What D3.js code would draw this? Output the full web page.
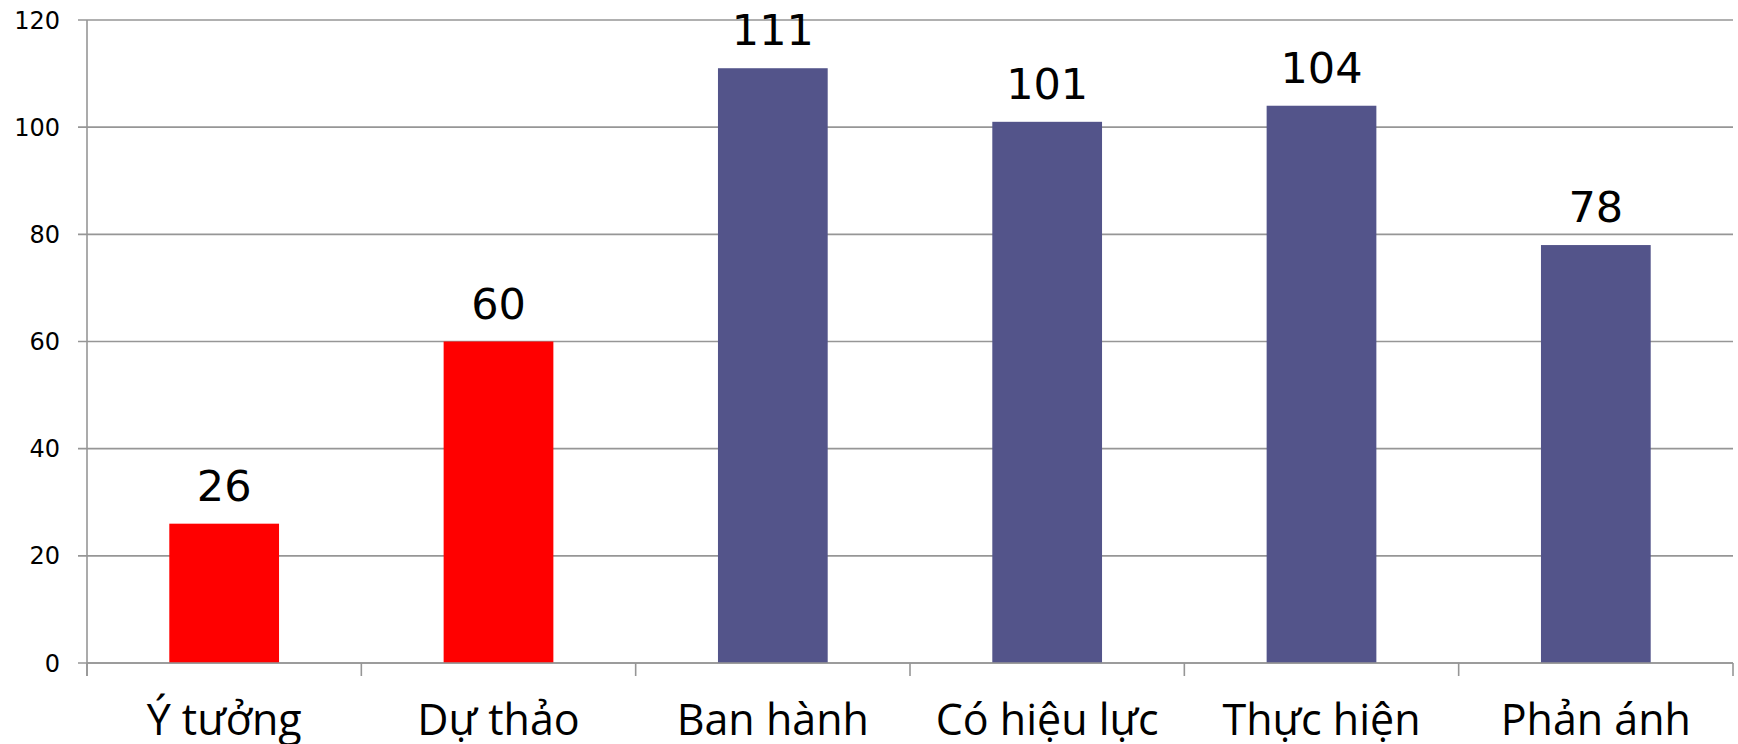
<!DOCTYPE html>
<html>
<head>
<meta charset="utf-8">
<script src="https://cdn.jsdelivr.net/npm/d3@7"></script>
<style>
  body { margin: 0; background: #fff; }
  svg { display: block; }
  .grid line { stroke: #969696; stroke-width: 1.6px; }
</style>
</head>
<body>
<div id="chart"></div>
<script>
// chart data
const categories = ['Ý tưởng', 'Dự thảo', 'Ban hành', 'Có hiệu lực', 'Thực hiện', 'Phản ánh'];
const values = [26, 60, 111, 101, 104, 78];
const barColors = ['#ff0000', '#ff0000', '#53548a', '#53548a', '#53548a', '#53548a'];
const yTicks = [0, 20, 40, 60, 80, 100, 120];

const width = 1738, height = 744;
const margin = { top: 20, right: 5, bottom: 81, left: 87 };

const svg = d3.select('#chart').append('svg')
    .attr('width', width)
    .attr('height', height);

let x = d3.scaleBand()
    .domain(categories)
    .range([margin.left, width - margin.right])
    .paddingInner(0.6)
    .paddingOuter(0.3);

let y = d3.scaleLinear()
    .domain([0, 120])
    .range([height - margin.bottom, margin.top]);

// horizontal gridlines (also act as y ticks on the left)
svg.append('g')
    .attr('class', 'grid')
    .selectAll('line')
    .data(yTicks)
    .enter().append('line')
    .attr('x1', margin.left - 9)
    .attr('x2', width - margin.right)
    .attr('y1', d => y(d))
    .attr('y2', d => y(d));

// y labels
svg.append('g')
    .selectAll('text')
    .data(yTicks)
    .enter().append('text')
    .attr('x', 60)
    .attr('y', d => y(d))
    .attr('dy', '0.36em')
    .attr('text-anchor', 'end')
    .style('font-family', 'DejaVu Sans, Verdana, sans-serif')
    .style('font-size', '24px')
    .attr('fill', '#000')
    .text(d => d);

// bars
svg.append('g')
    .selectAll('rect')
    .data(values)
    .enter().append('rect')
    .attr('x', (d, i) => x(categories[i]))
    .attr('width', x.bandwidth())
    .attr('y', d => y(d))
    .attr('height', d => y(0) - y(d))
    .attr('fill', (d, i) => barColors[i]);

// value labels
svg.append('g')
    .selectAll('text')
    .data(values)
    .enter().append('text')
    .attr('x', (d, i) => x(categories[i]) + x.bandwidth() / 2)
    .attr('y', d => y(d) - 23)
    .attr('text-anchor', 'middle')
    .style('font-family', 'DejaVu Sans, Verdana, sans-serif')
    .style('font-size', '43px')
    .attr('fill', '#000')
    .text(d => d);

// y axis line
svg.append('line')
    .attr('x1', margin.left).attr('x2', margin.left)
    .attr('y1', y(120)).attr('y2', y(0) + 13)
    .attr('stroke', '#969696').attr('stroke-width', 1.6);

// x axis line + ticks at category boundaries
let step = x.step();
let bounds = d3.range(categories.length + 1).map(i => margin.left + i * step);

svg.append('line')
    .attr('x1', margin.left).attr('x2', width - margin.right)
    .attr('y1', y(0)).attr('y2', y(0))
    .attr('stroke', '#969696').attr('stroke-width', 1.6);

svg.append('g')
    .selectAll('line')
    .data(bounds)
    .enter().append('line')
    .attr('x1', d => d).attr('x2', d => d)
    .attr('y1', y(0)).attr('y2', y(0) + 13)
    .attr('stroke', '#969696').attr('stroke-width', 1.6);

// category labels
svg.append('g')
    .selectAll('text')
    .data(categories)
    .enter().append('text')
    .attr('x', d => x(d) + x.bandwidth() / 2)
    .attr('y', 735)
    .attr('text-anchor', 'middle')
    .style('font-family', '"Open Sans", "Noto Sans", sans-serif')
    .style('font-size', '43px')
    .attr('fill', '#000')
    .text(d => d);
</script>
</body>
</html>
